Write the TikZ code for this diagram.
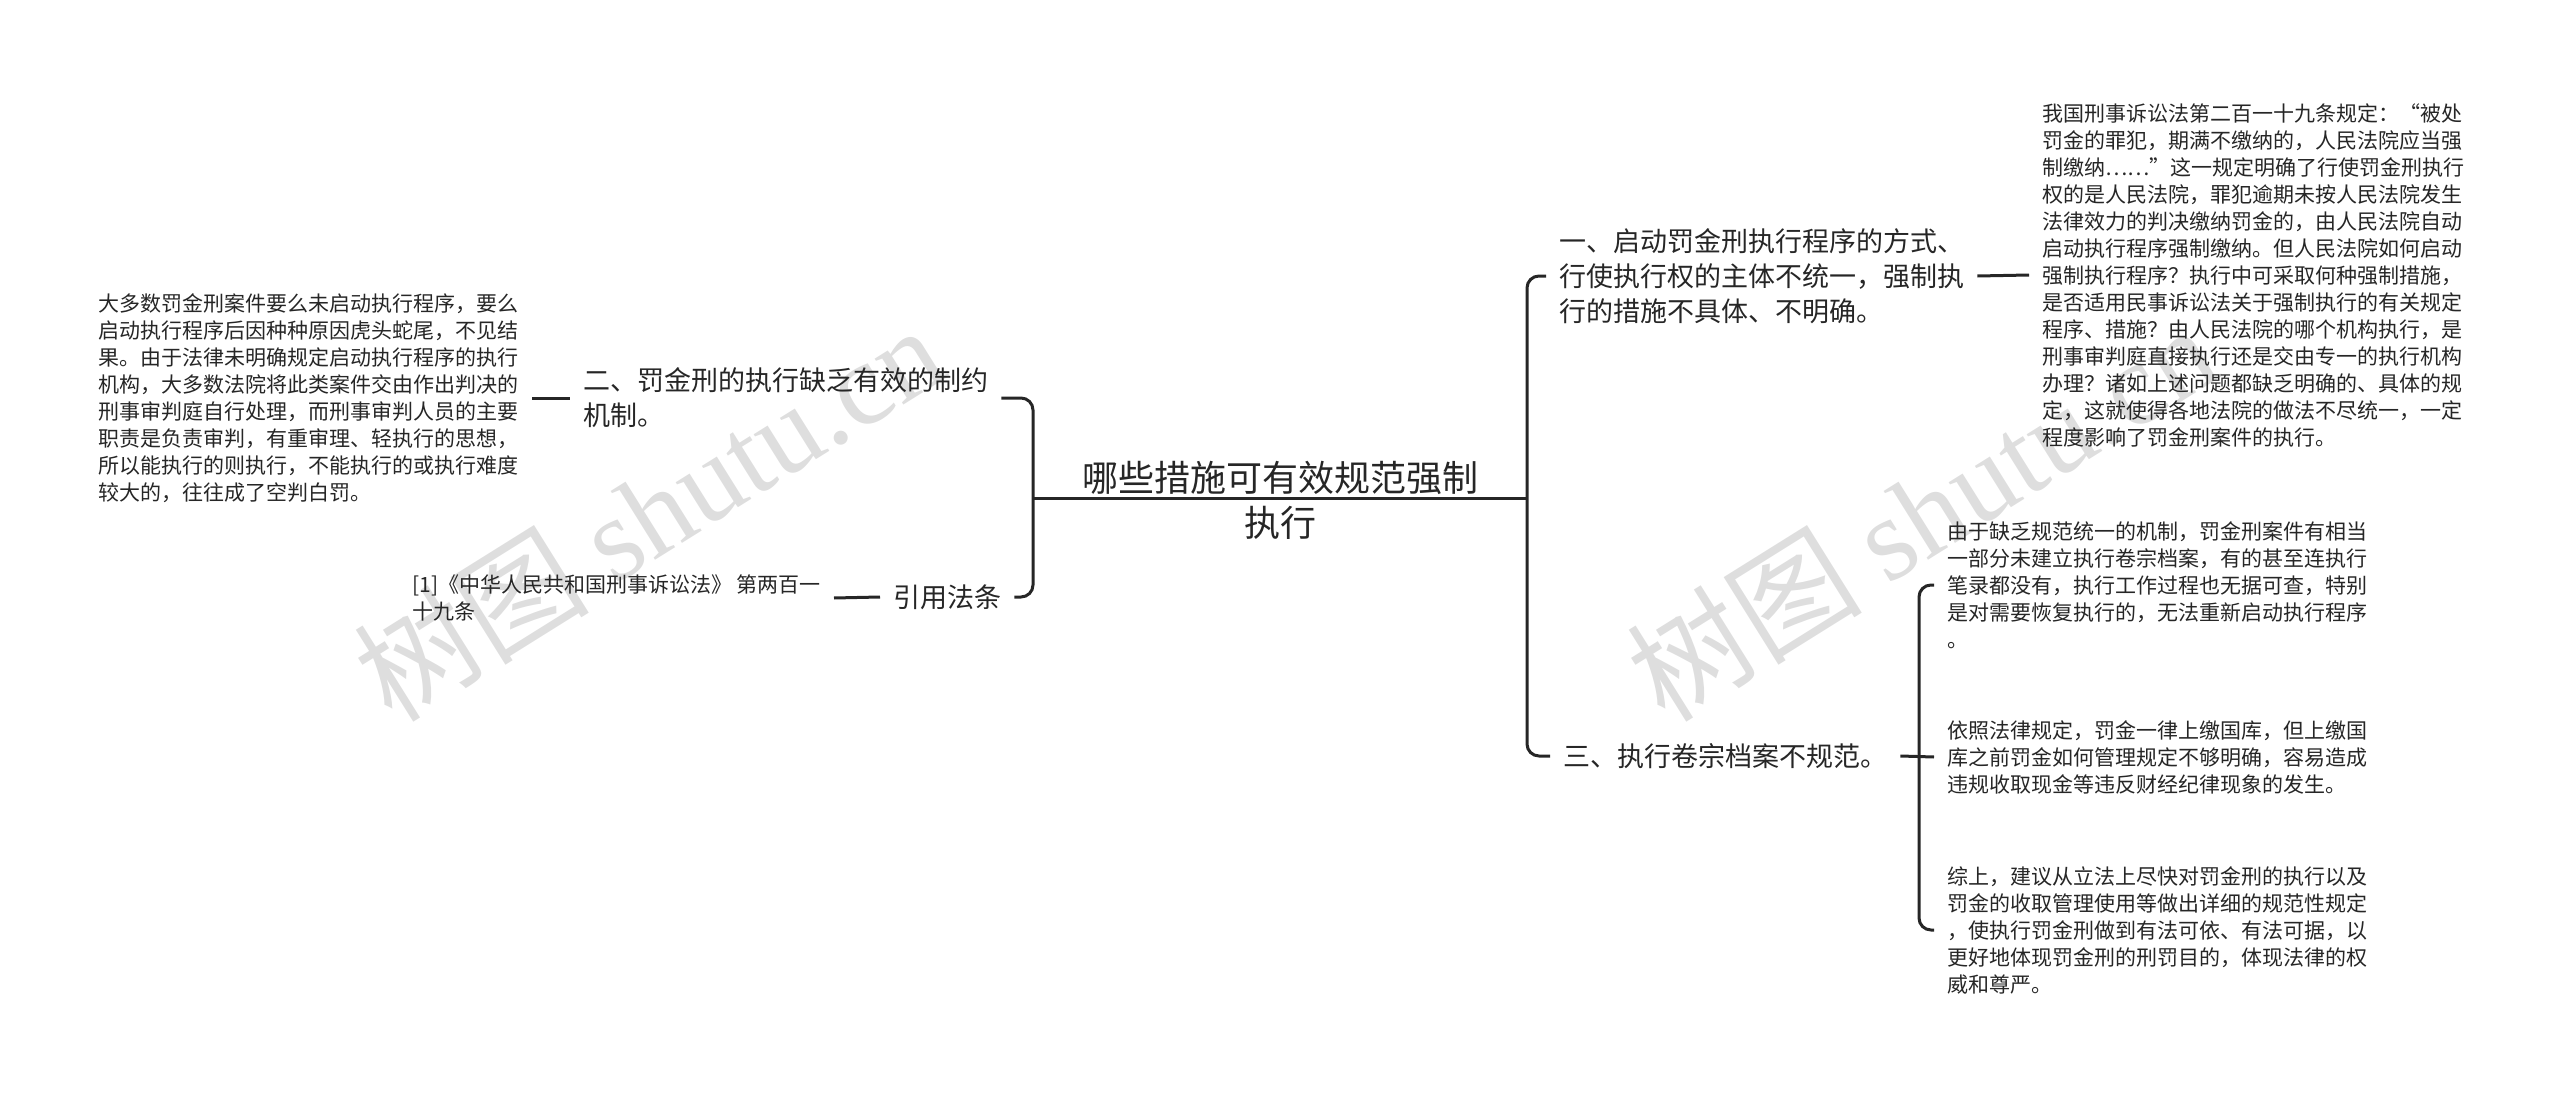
\documentclass[tikz,border=0pt]{standalone}
\usepackage{fontspec}
\setmainfont{Noto Sans CJK SC}
\newfontfamily\wmserif{Liberation Serif}

\tikzset{
  link/.style={line width=3pt, draw=black!85},
  leaf/.style={align=left, inner xsep=13pt, inner ysep=0pt, text=black!85, font=\fontsize{21}{27}\selectfont},
  branch/.style={align=left, inner xsep=13pt, inner ysep=0pt, text=black!85, font=\fontsize{27}{35}\selectfont},
  wmark/.style={rotate=32, text=black!13, font=\fontsize{118}{118}\selectfont},
}

\begin{document}
\begin{tikzpicture}[x=1pt, y=-1pt]
  \useasboundingbox (0,0) rectangle (2560,1097);
  \node[wmark] (wm1) at (648,512) {树图 {\wmserif shutu.cn}};
  \node[wmark] (wm2) at (1921,512) {树图 {\wmserif shutu.cn}};

  \node[align=center, text=black!85, font=\fontsize{36}{45}\selectfont] (root) at (1280,500) {哪些措施可有效规范强制\\执行};
  \coordinate (lj) at (1033,498);
  \coordinate (rj) at (1527,498);

  \node[branch, anchor=west] (b2) at (570,398) {二、罚金刑的执行缺乏有效的制约\\机制。};
  \node[branch, anchor=west] (b4) at (880,597) {引用法条};
  \node[branch, anchor=west] (b1) at (1546,276) {一、启动罚金刑执行程序的方式、\\行使执行权的主体不统一，强制执\\行的措施不具体、不明确。};
  \node[branch, anchor=west] (b3) at (1550,756) {三、执行卷宗档案不规范。};
  \coordinate (sj) at (1919,757);

  \node[leaf, anchor=east] (l2) at (532,398) {大多数罚金刑案件要么未启动执行程序，要么\\启动执行程序后因种种原因虎头蛇尾，不见结\\果。由于法律未明确规定启动执行程序的执行\\机构，大多数法院将此类案件交由作出判决的\\刑事审判庭自行处理，而刑事审判人员的主要\\职责是负责审判，有重审理、轻执行的思想，\\所以能执行的则执行，不能执行的或执行难度\\较大的，往往成了空判白罚。};
  \node[leaf, anchor=east] (l4) at (834,598) {[1]《中华人民共和国刑事诉讼法》 第两百一\\十九条};
  \node[leaf, anchor=west] (l1) at (2029,275) {我国刑事诉讼法第二百一十九条规定：“被处\\罚金的罪犯，期满不缴纳的，人民法院应当强\\制缴纳……”这一规定明确了行使罚金刑执行\\权的是人民法院，罪犯逾期未按人民法院发生\\法律效力的判决缴纳罚金的，由人民法院自动\\启动执行程序强制缴纳。但人民法院如何启动\\强制执行程序？执行中可采取何种强制措施，\\是否适用民事诉讼法关于强制执行的有关规定\\程序、措施？由人民法院的哪个机构执行，是\\刑事审判庭直接执行还是交由专一的执行机构\\办理？诸如上述问题都缺乏明确的、具体的规\\定，这就使得各地法院的做法不尽统一，一定\\程度影响了罚金刑案件的执行。};
  \node[leaf, anchor=west] (l3a) at (1934,585) {由于缺乏规范统一的机制，罚金刑案件有相当\\一部分未建立执行卷宗档案，有的甚至连执行\\笔录都没有，执行工作过程也无据可查，特别\\是对需要恢复执行的，无法重新启动执行程序\\。};
  \node[leaf, anchor=west] (l3b) at (1934,757) {依照法律规定，罚金一律上缴国库，但上缴国\\库之前罚金如何管理规定不够明确，容易造成\\违规收取现金等违反财经纪律现象的发生。};
  \node[leaf, anchor=west] (l3c) at (1934,930) {综上，建议从立法上尽快对罚金刑的执行以及\\罚金的收取管理使用等做出详细的规范性规定\\，使执行罚金刑做到有法可依、有法可据，以\\更好地体现罚金刑的刑罚目的，体现法律的权\\威和尊严。};

  \draw[link] (lj) -- (rj);
  \draw[link, rounded corners=12pt] (b2.east) -| (lj) |- (b4.east);
  \draw[link, rounded corners=12pt] (b1.west) -| (rj) |- (b3.west);
  \draw[link, rounded corners=12pt] (l3a.west) -| (sj) |- (l3c.west);
  \draw[link] (l2.east) -- (b2.west);
  \draw[link] (l4.east) -- (b4.west);
  \draw[link] (b1.east) -- (l1.west);
  \draw[link] (b3.east) -- (l3b.west);
\end{tikzpicture}
\end{document}
